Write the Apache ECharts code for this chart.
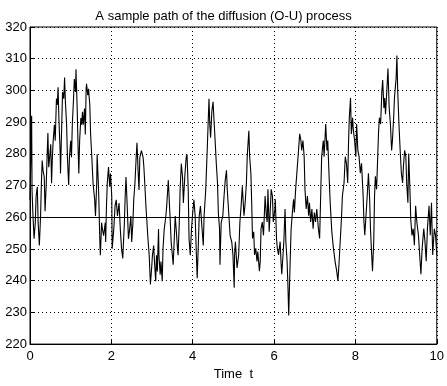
<!DOCTYPE html>
<html>
<head>
<meta charset="utf-8">
<title>O-U sample path</title>
<script src="https://cdn.jsdelivr.net/npm/echarts@6/dist/echarts.min.js"></script>
<style>
  html, body { margin: 0; padding: 0; background: #fff; }
  #chart { width: 447px; height: 386px; }
</style>
</head>
<body>
<div id="chart"></div>
<script>
// sample path (time, level)
const timeValues = [
  0.00, 0.02, 0.04, 0.05, 0.07, 0.10, 0.13, 0.15, 0.18, 0.20, 0.23, 0.26, 0.28, 0.30, 0.32, 0.35, 0.37, 0.40, 0.42, 0.44,
  0.46, 0.49, 0.51, 0.53, 0.55, 0.57, 0.60, 0.62, 0.65, 0.67, 0.69, 0.71, 0.74, 0.75, 0.78, 0.80, 0.83, 0.85, 0.87, 0.90,
  0.92, 0.95, 0.97, 1.00, 1.02, 1.04, 1.07, 1.09, 1.12, 1.13, 1.16, 1.18, 1.20, 1.22, 1.25, 1.27, 1.29, 1.31, 1.34, 1.36,
  1.38, 1.39, 1.42, 1.44, 1.47, 1.49, 1.52, 1.55, 1.59, 1.61, 1.64, 1.65, 1.68, 1.69, 1.72, 1.73, 1.76, 1.78, 1.81, 1.85,
  1.86, 1.88, 1.90, 1.93, 1.96, 1.98, 2.01, 2.02, 2.06, 2.09, 2.12, 2.15, 2.19, 2.22, 2.25, 2.28, 2.32, 2.34, 2.36, 2.39,
  2.42, 2.45, 2.48, 2.50, 2.53, 2.55, 2.58, 2.61, 2.63, 2.66, 2.68, 2.70, 2.74, 2.78, 2.80, 2.83, 2.85, 2.87, 2.90, 2.93,
  2.96, 2.99, 3.01, 3.04, 3.06, 3.09, 3.11, 3.13, 3.16, 3.17, 3.20, 3.22, 3.25, 3.27, 3.30, 3.34, 3.36, 3.40, 3.43, 3.45,
  3.47, 3.50, 3.52, 3.55, 3.57, 3.60, 3.62, 3.64, 3.67, 3.69, 3.72, 3.75, 3.77, 3.81, 3.84, 3.86, 3.89, 3.91, 3.94, 3.97,
  4.00, 4.03, 4.06, 4.08, 4.11, 4.14, 4.16, 4.19, 4.23, 4.26, 4.28, 4.32, 4.35, 4.37, 4.40, 4.42, 4.44, 4.47, 4.50, 4.53,
  4.56, 4.58, 4.61, 4.63, 4.66, 4.67, 4.70, 4.74, 4.77, 4.80, 4.83, 4.85, 4.89, 4.92, 4.96, 4.99, 5.02, 5.03, 5.05, 5.09,
  5.13, 5.16, 5.19, 5.22, 5.26, 5.29, 5.32, 5.34, 5.38, 5.40, 5.43, 5.45, 5.47, 5.50, 5.52, 5.55, 5.58, 5.60, 5.64, 5.66,
  5.68, 5.71, 5.74, 5.78, 5.81, 5.83, 5.85, 5.88, 5.90, 5.93, 5.96, 5.98, 6.02, 6.03, 6.06, 6.08, 6.11, 6.15, 6.17, 6.19,
  6.22, 6.24, 6.27, 6.29, 6.32, 6.34, 6.36, 6.40, 6.42, 6.45, 6.48, 6.50, 6.53, 6.56, 6.59, 6.63, 6.66, 6.68, 6.71, 6.74,
  6.76, 6.79, 6.82, 6.85, 6.87, 6.90, 6.93, 6.96, 6.99, 7.02, 7.05, 7.09, 7.12, 7.15, 7.17, 7.21, 7.23, 7.27, 7.30, 7.32,
  7.35, 7.38, 7.42, 7.46, 7.50, 7.54, 7.57, 7.60, 7.63, 7.66, 7.68, 7.72, 7.75, 7.78, 7.81, 7.83, 7.85, 7.88, 7.90, 7.93,
  7.95, 7.98, 8.01, 8.03, 8.06, 8.09, 8.12, 8.15, 8.19, 8.21, 8.23, 8.26, 8.29, 8.32, 8.35, 8.37, 8.40, 8.42, 8.45, 8.47,
  8.49, 8.52, 8.54, 8.57, 8.59, 8.62, 8.65, 8.67, 8.70, 8.72, 8.74, 8.78, 8.80, 8.83, 8.86, 8.89, 8.91, 8.94, 8.96, 9.00,
  9.02, 9.04, 9.07, 9.10, 9.13, 9.16, 9.18, 9.21, 9.24, 9.26, 9.29, 9.31, 9.34, 9.36, 9.39, 9.42, 9.45, 9.48, 9.51, 9.55,
  9.58, 9.61, 9.64, 9.68, 9.71, 9.74, 9.77, 9.81, 9.84, 9.87, 9.90, 9.94, 9.97, 10.0
];
const pathValues = [
  265.5, 278.9, 292.0, 268.6, 261.4, 253.2, 258.3, 266.6, 269.6, 258.3, 251.1, 260.4, 270.7, 277.9, 274.8, 272.7, 261.9, 270.7, 278.9, 286.6,
  275.8, 279.9, 283.0, 270.7, 278.9, 284.1, 289.2, 284.1, 297.4, 295.4, 301.0, 291.3, 281.0, 273.8, 289.2, 299.5, 297.4, 304.1, 296.4, 289.2,
  278.9, 270.2, 278.9, 284.1, 278.9, 289.2, 297.4, 303.6, 299.5, 306.7, 294.3, 283.0, 273.8, 284.1, 291.3, 289.2, 293.3, 289.2, 294.3, 286.1,
  300.5, 302.1, 298.5, 300.5, 295.4, 286.1, 278.9, 270.7, 265.5, 260.4, 270.7, 279.9, 270.7, 266.6, 251.1, 248.0, 258.3, 256.3, 254.2, 258.3,
  252.2, 263.5, 270.7, 275.8, 269.6, 273.8, 266.6, 250.1, 256.3, 263.5, 265.5, 260.4, 264.5, 256.3, 250.1, 247.0, 258.3, 266.6, 272.7, 263.5,
  253.2, 256.3, 260.4, 252.2, 258.3, 265.5, 270.7, 278.9, 283.5, 273.8, 268.6, 278.9, 281.0, 278.9, 275.8, 268.6, 263.5, 259.4, 253.2, 248.0,
  238.8, 243.9, 248.0, 251.1, 246.0, 239.8, 248.0, 242.9, 256.3, 248.0, 241.9, 246.0, 239.8, 250.1, 256.3, 260.4, 263.5, 271.7, 263.5, 258.3,
  252.2, 248.0, 245.0, 254.2, 260.4, 255.2, 251.1, 248.0, 258.3, 268.6, 276.9, 272.7, 264.5, 273.8, 278.9, 279.9, 268.6, 253.2, 248.0, 256.3,
  261.4, 265.5, 260.4, 252.2, 240.8, 252.2, 260.4, 263.5, 256.3, 251.1, 260.4, 268.6, 278.9, 286.1, 297.4, 289.2, 285.1, 293.3, 296.4, 289.2,
  282.0, 276.9, 270.7, 261.4, 256.3, 245.0, 258.3, 260.4, 266.6, 271.7, 274.8, 268.6, 260.4, 254.2, 252.2, 248.0, 237.8, 248.1, 252.3, 244.0,
  248.1, 258.5, 263.6, 269.8, 260.5, 264.6, 270.8, 279.1, 287.3, 279.1, 273.9, 264.6, 253.3, 255.4, 248.1, 250.2, 246.1, 249.2, 243.0, 246.1,
  256.4, 258.5, 254.3, 266.7, 260.5, 258.5, 268.8, 255.4, 260.5, 268.8, 266.7, 258.5, 262.6, 265.7, 253.3, 250.2, 248.1, 252.3, 246.1, 242.0,
  248.1, 252.3, 262.6, 252.3, 246.1, 238.9, 229.0, 248.1, 256.4, 261.5, 265.7, 261.5, 268.8, 273.9, 279.1, 286.3, 284.2, 281.1, 284.2, 279.1,
  268.8, 262.6, 266.7, 260.5, 264.6, 258.5, 262.6, 256.4, 261.5, 258.5, 262.6, 256.4, 253.3, 268.8, 279.1, 284.2, 279.1, 289.4, 281.1, 284.2,
  273.9, 264.6, 255.4, 250.2, 246.1, 243.0, 239.9, 246.1, 253.3, 260.5, 266.7, 270.8, 279.1, 277.0, 270.8, 283.2, 291.4, 297.6, 286.3, 291.4,
  287.3, 284.2, 279.1, 289.4, 281.1, 279.1, 273.9, 277.0, 266.7, 258.5, 254.3, 260.5, 266.7, 273.9, 265.7, 256.4, 248.1, 243.0, 252.3, 266.7,
  272.9, 268.8, 276.0, 287.3, 291.4, 289.4, 299.7, 303.3, 294.5, 297.6, 292.5, 301.8, 306.9, 294.5, 289.4, 281.1, 284.2, 291.4, 297.6, 303.8,
  311.0, 299.7, 289.4, 281.1, 273.9, 270.8, 276.0, 281.1, 279.1, 270.8, 264.6, 280.1, 268.8, 259.5, 254.3, 256.4, 251.2, 263.6, 258.5, 254.3,
  248.1, 242.0, 250.2, 256.4, 252.3, 246.1, 256.4, 263.6, 254.3, 264.6, 248.1, 256.4, 254.3, 248.1
];
const meanLevel = 260;

const chart = echarts.init(document.getElementById('chart'));
const fontFamily = '"Liberation Sans", Arial, Helvetica, sans-serif';

const option = {
  animation: false,
  title: {
    text: 'A sample path of the diffusion (O-U) process',
    left: 'center',
    top: 5,
    textStyle: { fontFamily: fontFamily, fontSize: 13, fontWeight: 'normal', color: '#000' },
  },
  grid: {
    left: 30,
    right: 6,
    top: 27,
    bottom: 35,
    show: true,
    borderColor: '#000',
    borderWidth: 1,
  },
  xAxis: {
    type: 'value',
    min: 0,
    max: 10,
    interval: 2,
    name: 'Time  t',
    nameLocation: 'middle',
    nameGap: 23,
    nameTextStyle: { fontFamily: fontFamily, fontSize: 13, color: '#000' },
    axisLine: { lineStyle: { color: '#000' } },
    axisTick: { inside: true, length: 4, lineStyle: { color: '#000' } },
    axisLabel: { fontFamily: fontFamily, fontSize: 13, color: '#000', margin: 6 },
    splitLine: { show: true, lineStyle: { color: '#000', type: [1, 3], width: 1 } },
  },
  yAxis: {
    type: 'value',
    min: 220,
    max: 320,
    interval: 10,
    axisLine: { show: true, lineStyle: { color: '#000' } },
    axisTick: { show: true, inside: true, length: 4, lineStyle: { color: '#000' } },
    axisLabel: { fontFamily: fontFamily, fontSize: 13, color: '#000', margin: 3 },
    splitLine: { show: true, lineStyle: { color: '#000', type: [1, 3], width: 1 } },
  },
  series: [
    {
      type: 'line',
      data: timeValues.map((t, i) => [t, pathValues[i]]),
      showSymbol: false,
      lineStyle: { color: '#000', width: 1.1 },
      markLine: {
        silent: true,
        symbol: 'none',
        label: { show: false },
        lineStyle: { color: '#000', type: 'solid', width: 1 },
        data: [{ yAxis: meanLevel }],
      },
    },
  ],
};

chart.setOption(option);
</script>
</body>
</html>
